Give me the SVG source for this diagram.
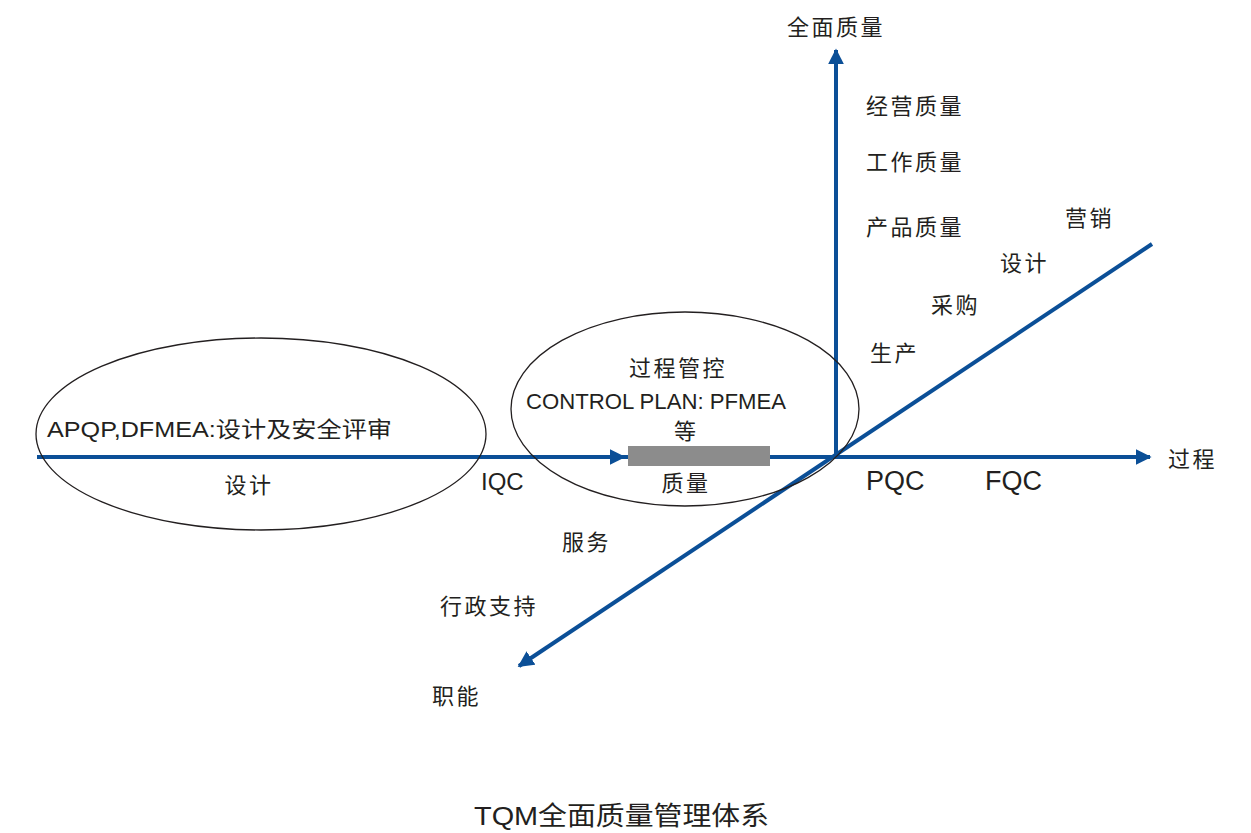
<svg xmlns="http://www.w3.org/2000/svg" width="1251" height="833" viewBox="0 0 1251 833">
<style>
.t{font-family:"Liberation Sans","Noto Sans CJK SC",sans-serif;font-size:22px;fill:#231f20}
.c{letter-spacing:2.5px}
.big{font-size:27px}
.iqc{font-size:24px}
.title{font-size:26px}
.ax{stroke:#0b4f97;stroke-width:4;fill:none}
.el{stroke:#231f20;stroke-width:1.3;fill:none}
</style>
<defs>
<marker id="ah" viewBox="0 0 10 10" refX="9" refY="5" markerWidth="4" markerHeight="4" orient="auto" markerUnits="strokeWidth">
<path d="M0,0 L10,5 L0,10 z" fill="#0b4f97"/>
</marker>
</defs>
<rect width="1251" height="833" fill="#fff"/>
<g id="connectors">
<line class="ax" x1="37" y1="457" x2="1150" y2="457" marker-end="url(#ah)"/>
<line class="ax" x1="37" y1="457" x2="624" y2="457" marker-end="url(#ah)"/>
<line class="ax" x1="836" y1="459" x2="836" y2="50" marker-end="url(#ah)"/>
<line class="ax" x1="1152" y1="244" x2="519" y2="666" marker-end="url(#ah)"/>
</g>
<g id="ellipse-design"><ellipse class="el" cx="261" cy="434" rx="225" ry="96"/></g>
<g id="ellipse-process"><ellipse class="el" cx="685" cy="409" rx="174" ry="97"/></g>
<g id="quality-bar"><rect x="628" y="446" width="142" height="20" fill="#8c8c8c"/></g>
<g id="labels">
<text class="t c" x="836" y="35" text-anchor="middle">全面质量</text>
<text class="t c" x="866" y="114">经营质量</text>
<text class="t c" x="866" y="170">工作质量</text>
<text class="t c" x="866" y="235">产品质量</text>
<text class="t c" x="1065" y="226">营销</text>
<text class="t c" x="1000" y="271">设计</text>
<text class="t c" x="931" y="313">采购</text>
<text class="t c" x="870" y="361">生产</text>
<text class="t c" x="1168" y="467">过程</text>
<text class="t big" x="866" y="490">PQC</text>
<text class="t big" x="985" y="490">FQC</text>
<text class="t iqc" x="481" y="490">IQC</text>
<text class="t c" x="686" y="491" text-anchor="middle">质量</text>
<text class="t c" x="249" y="493" text-anchor="middle">设计</text>
<text class="t" x="47" y="437" textLength="345" lengthAdjust="spacingAndGlyphs">APQP,DFMEA:设计及安全评审</text>
<text class="t c" x="678" y="376" text-anchor="middle">过程管控</text>
<text class="t" x="526" y="409" textLength="260" lengthAdjust="spacingAndGlyphs">CONTROL PLAN: PFMEA</text>
<text class="t" x="685" y="439" text-anchor="middle">等</text>
<text class="t c" x="562" y="550">服务</text>
<text class="t c" x="440" y="614">行政支持</text>
<text class="t c" x="432" y="704">职能</text>
<text class="t title" x="474" y="825" textLength="295" lengthAdjust="spacingAndGlyphs">TQM全面质量管理体系</text>
</g>
</svg>
